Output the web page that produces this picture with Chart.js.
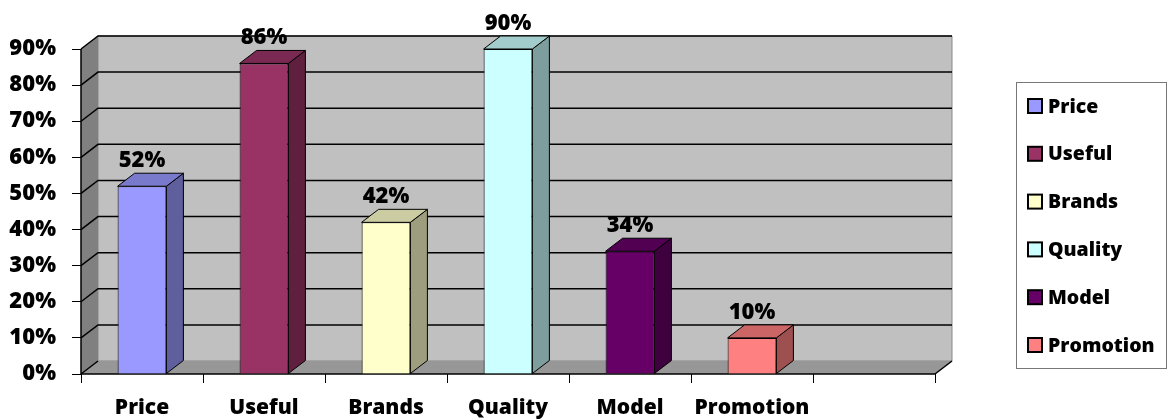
<!DOCTYPE html>
<html>
<head>
<meta charset="utf-8">
<script src="https://cdn.jsdelivr.net/npm/chart.js@4"></script>
<style>
  body { margin: 0; background: #fff; }
  #wrap { width: 1171px; height: 420px; }
</style>
</head>
<body>
<div id="wrap"><canvas id="chart" width="1171" height="420"></canvas></div>
<script>
const categories = ['Price', 'Useful', 'Brands', 'Quality', 'Model', 'Promotion'];
const values = [0.52, 0.86, 0.42, 0.90, 0.34, 0.10];
const yTicks = [0, 0.1, 0.2, 0.3, 0.4, 0.5, 0.6, 0.7, 0.8, 0.9];
const colors = ['#9999FF', '#993366', '#FFFFCC', '#CCFFFF', '#660066', '#FF8080'];

const FONT = '"Open Sans"';
const WEIGHT = 800;
const DX = 17, DY = 13;

function shade(hex, f) {
  const n = parseInt(hex.slice(1), 16);
  const r = Math.round(((n >> 16) & 255) * f);
  const g = Math.round(((n >> 8) & 255) * f);
  const b = Math.round((n & 255) * f);
  return `rgb(${r},${g},${b})`;
}

function poly(ctx, pts, fill, stroke, lw) {
  ctx.beginPath();
  ctx.moveTo(pts[0][0], pts[0][1]);
  for (let i = 1; i < pts.length; i++) ctx.lineTo(pts[i][0], pts[i][1]);
  ctx.closePath();
  if (fill) { ctx.fillStyle = fill; ctx.fill(); }
  if (stroke) { ctx.strokeStyle = stroke; ctx.lineWidth = lw || 1; ctx.stroke(); }
}

// back wall, left wall, floor and gridlines
const walls = {
  id: 'walls',
  beforeDatasetsDraw(chart) {
    const { ctx, chartArea: a, scales: { y } } = chart;
    const L = a.left, R = a.right, T = a.top, B = a.bottom;
    ctx.save();
    poly(ctx, [[L + DX, T - DY], [R + DX, T - DY], [R + DX, B - DY], [L + DX, B - DY]], '#C0C0C0', '#888', 1);
    poly(ctx, [[L, B], [L, T], [L + DX, T - DY], [L + DX, B - DY]], '#808080', null);
    poly(ctx, [[L, B], [R, B], [R + DX, B - DY], [L + DX, B - DY]], '#979797', null);
    ctx.strokeStyle = '#000';
    ctx.lineWidth = 1.5;
    yTicks.forEach(v => {
      if (v === 0) return;
      const py = y.getPixelForValue(v);
      ctx.beginPath();
      ctx.moveTo(L, py);
      ctx.lineTo(L + DX, py - DY);
      ctx.lineTo(R + DX, py - DY);
      ctx.stroke();
    });
    ctx.beginPath();
    ctx.moveTo(L, B);
    ctx.lineTo(L + DX, B - DY);
    ctx.moveTo(R, B);
    ctx.lineTo(R + DX, B - DY);
    ctx.stroke();
    ctx.beginPath();
    ctx.moveTo(L, T);
    ctx.lineTo(L, B);
    ctx.lineTo(R, B);
    ctx.stroke();
    ctx.restore();
  },
  afterDatasetsDraw(chart) {
    const { ctx } = chart;
    const meta = chart.getDatasetMeta(0);
    ctx.save();
    meta.data.forEach((bar, i) => {
      if (values[i] == null) return;
      const w = bar.width / 2;
      const x0 = bar.x - w, x1 = bar.x + w;
      poly(ctx, [[x1, bar.y], [x1 + DX, bar.y - DY], [x1 + DX, bar.base - DY], [x1, bar.base]], shade(colors[i], 0.62), '#000', 1);
      poly(ctx, [[x0, bar.y], [x0 + DX, bar.y - DY], [x1 + DX, bar.y - DY], [x1, bar.y]], shade(colors[i], 0.8), '#000', 1);
      ctx.fillStyle = '#000';
      ctx.font = `${WEIGHT} 22px ${FONT}`;
      ctx.textAlign = 'center';
      ctx.textBaseline = 'alphabetic';
      ctx.fillText(Math.round(values[i] * 100) + '%', bar.x, bar.y - DY - 6);
    });
    ctx.restore();
  },
  afterDraw(chart) {
    const { ctx } = chart;
    ctx.save();
    ctx.strokeStyle = '#777';
    ctx.lineWidth = 1;
    ctx.strokeRect(1016.5, 82.5, 150, 286);
    ctx.font = `${WEIGHT} 19.5px ${FONT}`;
    ctx.textAlign = 'left';
    ctx.textBaseline = 'middle';
    categories.forEach((c, i) => {
      const cy = 106 + i * 47.8;
      ctx.fillStyle = colors[i];
      ctx.fillRect(1028, cy - 7, 14, 14);
      ctx.strokeStyle = '#000';
      ctx.lineWidth = 2;
      ctx.strokeRect(1028, cy - 7, 14, 14);
      ctx.fillStyle = '#000';
      ctx.fillText(c, 1048, cy + 1);
    });
    ctx.restore();
  }
};

new Chart(document.getElementById('chart'), {
  type: 'bar',
  data: {
    labels: [...categories, ''],
    datasets: [{
      data: values,
      backgroundColor: colors,
      borderColor: '#000',
      borderWidth: 1,
      barPercentage: 0.4,
      categoryPercentage: 1
    }]
  },
  options: {
    responsive: false,
    animation: false,
    layout: { padding: { top: 49, right: 236, left: 0, bottom: 0 } },
    plugins: { legend: { display: false }, tooltip: { enabled: false } },
    scales: {
      x: {
        grid: { drawOnChartArea: false, tickLength: 9, color: '#000', lineWidth: 1 },
        border: { display: false },
        ticks: { color: '#000', font: { family: FONT, weight: WEIGHT, size: 21 }, padding: 12, maxRotation: 0 },
        afterFit(s) { s.height = 46; }
      },
      y: {
        min: 0,
        max: 0.9,
        afterBuildTicks(s) { s.ticks = yTicks.map(v => ({ value: v })); },
        grid: { drawOnChartArea: false, tickLength: 9, color: '#000', lineWidth: 1 },
        border: { display: false },
        ticks: {
          color: '#000',
          font: { family: FONT, weight: WEIGHT, size: 22 },
          padding: 16,
          callback: v => Math.round(v * 100) + '%'
        },
        afterFit(s) { s.width = 81; }
      }
    }
  },
  plugins: [walls]
});
</script>
</body>
</html>
